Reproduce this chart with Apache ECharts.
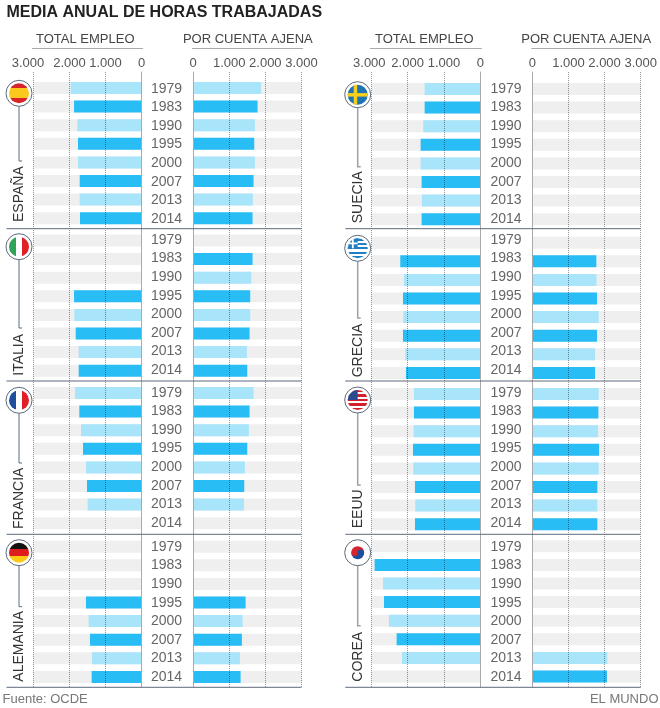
<!DOCTYPE html>
<html>
<head>
<meta charset="utf-8">
<style>
  html, body { margin: 0; padding: 0; background: #fff; }
  #chart { width: 660px; height: 708px; }
</style>
<script src="https://cdn.jsdelivr.net/npm/echarts@6/dist/echarts.min.js"></script>
</head>
<body>
<div id="chart"></div>
<script>
var years = ['1979', '1983', '1990', '1995', '2000', '2007', '2013', '2014'];
var tickValues = [0, 1000, 2000, 3000];
var tickLabels = ['0', '1.000', '2.000', '3.000'];
var axisMax = 3000;

// horas: total empleo / por cuenta ajena
var espanaTotal = [1967, 1874, 1782, 1764, 1764, 1717, 1717, 1708];
var espanaAjena = [1884, 1785, 1711, 1693, 1711, 1674, 1656, 1647];
var italiaTotal = [null, null, null, 1874, 1865, 1828, 1745, 1745];
var italiaAjena = [null, 1647, 1610, 1582, 1582, 1564, 1490, 1500];
var franciaTotal = [1847, 1727, 1680, 1625, 1542, 1514, 1496, null];
var franciaAjena = [1674, 1564, 1546, 1500, 1435, 1417, 1408, null];
var alemaniaTotal = [null, null, null, 1542, 1468, 1431, 1376, 1385];
var alemaniaAjena = [null, null, null, 1454, 1371, 1352, 1297, 1316];
var sueciaTotal = [1532, 1532, 1569, 1642, 1642, 1615, 1606, 1615];
var sueciaAjena = [null, null, null, null, null, null, null, null];
var greciaTotal = [null, 2202, 2101, 2128, 2119, 2128, 2064, 2046];
var greciaAjena = [null, 1773, 1773, 1791, 1837, 1791, 1736, 1736];
var eeuuTotal = [1826, 1826, 1835, 1853, 1844, 1798, 1789, 1798];
var eeuuAjena = [1837, 1828, 1819, 1847, 1837, 1800, 1800, 1800];
var coreaTotal = [null, 2908, 2679, 2651, 2514, 2303, 2156, null];
var coreaAjena = [null, null, null, null, null, null, 2077, 2068];

var FONT = '"Liberation Sans", Arial, sans-serif';
var DARK = '#29bdf5', LIGHT = '#a8e4fa', BAND = '#efefef';
var ROW = 18.6;

var columns = [
  { zeroL: 141.5, widthL: 108, zeroR: 193, widthR: 108.5, x: 19, ruleL: 6.5, lineW: 1, lineC: '#5c6b7c', shift: 11,
    heads: [85.3, 247.8], yearMargin: 26.5,
    panels: [
      { name: 'ESPAÑA', total: espanaTotal, ajena: espanaAjena, bars: 88, yearsAt: 88.7, flag: 93.3, nameY: 222, lineEnd: 161, rule: 228.7, draw: spain },
      { name: 'ITALIA', total: italiaTotal, ajena: italiaAjena, bars: 240.5, yearsAt: 240, flag: 246.7, nameY: 375.7, lineEnd: 328, rule: 381, draw: italy },
      { name: 'FRANCIA', total: franciaTotal, ajena: franciaAjena, bars: 393, yearsAt: 392.7, flag: 400.3, nameY: 529, lineEnd: 463, rule: 534.3, draw: france },
      { name: 'ALEMANIA', total: alemaniaTotal, ajena: alemaniaAjena, bars: 546.7, yearsAt: 547, flag: 552.7, nameY: 681.7, lineEnd: 606.7, rule: 687.3, draw: germany }
    ] },
  { zeroL: 480.3, widthL: 109, zeroR: 532.3, widthR: 108.4, x: 357.7, ruleL: 345.3, lineW: 1.5, lineC: '#9aa3ad', shift: 4,
    heads: [424.3, 586.2], yearMargin: 26.3,
    panels: [
      { name: 'SUECIA', total: sueciaTotal, ajena: sueciaAjena, bars: 89, yearsAt: 88.7, flag: 94.7, nameY: 223.3, lineEnd: 166.7, rule: 228.7, draw: sweden },
      { name: 'GRECIA', total: greciaTotal, ajena: greciaAjena, bars: 242.7, yearsAt: 240, flag: 248.3, nameY: 377.3, lineEnd: 318, rule: 381, draw: greece },
      { name: 'EEUU', total: eeuuTotal, ajena: eeuuAjena, bars: 394, yearsAt: 392.7, flag: 400, nameY: 528.3, lineEnd: 485, rule: 534.3, draw: usa },
      { name: 'COREA', total: coreaTotal, ajena: coreaAjena, bars: 546.3, yearsAt: 547, flag: 552.7, nameY: 681.7, lineEnd: 625.7, rule: 687.3, draw: korea }
    ] }
];

function stripes(x, y, colors) {
  var stops = [];
  colors.forEach(function (c, i) {
    stops.push({ offset: i / colors.length, color: c });
    stops.push({ offset: (i + 1) / colors.length, color: c });
  });
  return new echarts.graphic.LinearGradient(0, 0, x, y, stops);
}
function disc(cx, cy, r, fill) {
  return { type: 'circle', z: 21, shape: { cx: cx, cy: cy, r: r }, style: { fill: fill } };
}
function box(x, y, w, h, fill) {
  return { type: 'rect', z: 22, shape: { x: x, y: y, width: w, height: h }, style: { fill: fill } };
}
function canton(cx, cy, fill) {
  return { type: 'sector', z: 22, shape: { cx: cx, cy: cy, r: 10, startAngle: Math.PI, endAngle: Math.PI * 1.5 }, style: { fill: fill } };
}

function spain(cx, cy) { return [disc(cx, cy, 10, stripes(0, 1, ['#d8232a', '#fbc91e', '#fbc91e', '#d8232a']))]; }
function italy(cx, cy) { return [disc(cx, cy, 10, stripes(1, 0, ['#2fa257', '#ffffff', '#e01f26']))]; }
function france(cx, cy) { return [disc(cx, cy, 10, stripes(1, 0, ['#1d4f9c', '#ffffff', '#e01f26']))]; }
function germany(cx, cy) { return [disc(cx, cy, 10, stripes(0, 1, ['#111111', '#dd1c1c', '#fcc915']))]; }
function sweden(cx, cy) {
  return [disc(cx, cy, 10, '#1f74b4'), box(cx - 4, cy - 9.9, 3.5, 19.8, '#f8cf1c'), box(cx - 9.9, cy - 1.6, 19.8, 3.5, '#f8cf1c')];
}
function greece(cx, cy) {
  return [
    disc(cx, cy, 10, stripes(0, 1, ['#1f7fc4', '#ffffff', '#1f7fc4', '#ffffff', '#1f7fc4', '#ffffff', '#1f7fc4', '#ffffff', '#1f7fc4'])),
    canton(cx, cy, '#1f7fc4'), box(cx - 10, cy - 5.8, 10, 1.8, '#ffffff'), box(cx - 5.8, cy - 10, 1.8, 10, '#ffffff')
  ];
}
function usa(cx, cy) {
  return [
    disc(cx, cy, 10, stripes(0, 1, ['#d3212c', '#ffffff', '#d3212c', '#ffffff', '#d3212c', '#ffffff', '#d3212c', '#ffffff', '#d3212c'])),
    canton(cx, cy, '#2c4a8f')
  ];
}
function korea(cx, cy) {
  return [
    disc(cx, cy, 6.5, stripes(0, 1, ['#d9232e', '#1d4f9c'])),
    { type: 'circle', z: 22, shape: { cx: cx - 3, cy: cy, r: 3.2 }, style: { fill: '#d9232e' } },
    { type: 'circle', z: 22, shape: { cx: cx + 3, cy: cy, r: 3.2 }, style: { fill: '#1d4f9c' } }
  ];
}

var grids = [], xAxes = [], yAxes = [], series = [], graphics = [];

function text(str, x, y, size, color, extra) {
  var el = { type: 'text', z: 20, x: x, y: y,
    style: Object.assign({ text: str, font: size + 'px ' + FONT, fill: color, textAlign: 'center', textVerticalAlign: 'middle' }, extra || {}) };
  return el;
}
function rule(x1, x2, y, color) {
  return { type: 'line', z: 20, shape: { x1: x1, y1: y, x2: x2, y2: y }, style: { stroke: color, lineWidth: 1 } };
}

// rejilla de fondo con las lineas punteadas y las etiquetas de arriba
function addRules(left, width, inverse, shift) {
  var i = grids.length;
  grids.push({ left: left, top: 72, width: width, height: 615 });
  xAxes.push({
    gridIndex: i, type: 'value', min: 0, max: axisMax, interval: 1000, inverse: inverse, position: 'top', z: 5,
    axisLine: { show: false }, axisTick: { show: false },
    // semitransparente: oscurece las barras igual que en el original
    splitLine: { show: true, showMinLine: false, lineStyle: { color: 'rgba(0,0,0,0.42)', type: [1, 1], width: 1 } },
    axisLabel: {
      show: true, margin: 2, hideOverlap: false, fontFamily: FONT, fontSize: 13, color: '#555',
      formatter: function (v) {
        var s = tickLabels[tickValues.indexOf(v)];
        return v === axisMax && shift ? '{s|' + s + '}' : s;
      },
      rich: { s: { fontFamily: FONT, fontSize: 13, color: '#555', padding: [0, shift || 0, 0, 0] } }
    }
  });
  yAxes.push({
    gridIndex: i, type: 'value', min: 0, max: 1, z: 5, splitLine: { show: false },
    axisLine: { show: true, onZero: true, lineStyle: { color: '#aaa', width: 1 } },
    axisTick: { show: false }, axisLabel: { show: false }
  });
}

function addBars(left, width, center, inverse, values) {
  var i = grids.length;
  grids.push({ left: left, top: center - ROW / 2, width: width, height: ROW * years.length });
  xAxes.push({ gridIndex: i, type: 'value', min: 0, max: axisMax, inverse: inverse, show: false });
  yAxes.push({ gridIndex: i, type: 'category', inverse: true, data: years, show: false });
  series.push({
    type: 'bar', xAxisIndex: i, yAxisIndex: i, barWidth: 12, barGap: '-100%', silent: true,
    itemStyle: { color: BAND }, data: years.map(function () { return axisMax; })
  });
  series.push({
    type: 'bar', xAxisIndex: i, yAxisIndex: i, barWidth: 12, barGap: '-100%',
    itemStyle: { color: function (p) { return p.dataIndex % 2 ? DARK : LIGHT; } }, data: values
  });
}

function addYears(zero, center, margin) {
  var i = grids.length;
  grids.push({ left: zero, top: center - ROW / 2, width: 10, height: ROW * years.length });
  xAxes.push({ gridIndex: i, type: 'value', min: 0, max: 1, show: false });
  yAxes.push({
    gridIndex: i, type: 'category', inverse: true, data: years,
    axisLine: { show: false }, axisTick: { show: false },
    axisLabel: { align: 'center', margin: margin, fontFamily: FONT, fontSize: 14, color: '#666', interval: 0 }
  });
}

columns.forEach(function (col) {
  var leftL = col.zeroL - col.widthL;
  addRules(leftL, col.widthL, true, col.shift);
  addRules(col.zeroR, col.widthR, false, 0);

  graphics.push(text('TOTAL EMPLEO', col.heads[0], 39, 13, '#444'));
  graphics.push(text('POR CUENTA AJENA', col.heads[1], 39, 13, '#444'));
  graphics.push(rule(leftL - 1.5, col.zeroL + 1.5, 48.5, '#aaa'));
  graphics.push(rule(col.zeroR - 1, col.zeroR + col.widthR + 1.5, 48.5, '#aaa'));

  col.panels.forEach(function (p) {
    addBars(leftL, col.widthL, p.bars, true, p.total);
    addBars(col.zeroR, col.widthR, p.bars, false, p.ajena);
    addYears(col.zeroR, p.yearsAt, col.yearMargin);

    graphics.push(rule(col.ruleL, col.zeroR + col.widthR, p.rule, '#5c6b7c'));
    graphics.push({
      type: 'polyline', z: 20,
      shape: { points: [[col.x, p.flag + 13], [col.x, p.lineEnd], [col.x + 3, p.lineEnd]] },
      style: { stroke: col.lineC, lineWidth: col.lineW, fill: null }
    });
    graphics.push({ type: 'circle', z: 20, shape: { cx: col.x, cy: p.flag, r: 13 }, style: { fill: '#fff', stroke: '#5c6b7c', lineWidth: 1 } });
    graphics = graphics.concat(p.draw(col.x, p.flag));
    graphics.push({
      type: 'text', z: 20, x: col.x, y: p.nameY, rotation: Math.PI / 2,
      style: { text: p.name, font: '14px ' + FONT, fill: '#333', textAlign: 'left', textVerticalAlign: 'middle' }
    });
  });
});

graphics.push(text('MEDIA ANUAL DE HORAS TRABAJADAS', 6.5, 13, 16, '#222', { font: 'bold 16px ' + FONT, textAlign: 'left' }));
graphics.push(text('Fuente: OCDE', 2.5, 699, 13, '#777', { textAlign: 'left' }));
graphics.push(text('EL MUNDO', 658.5, 699, 13, '#777', { textAlign: 'right' }));

var chart = echarts.init(document.getElementById('chart'), null, { width: 660, height: 708 });
chart.setOption({
  animation: false,
  backgroundColor: '#fff',
  grid: grids,
  xAxis: xAxes,
  yAxis: yAxes,
  series: series,
  graphic: { elements: graphics }
});
</script>
</body>
</html>
